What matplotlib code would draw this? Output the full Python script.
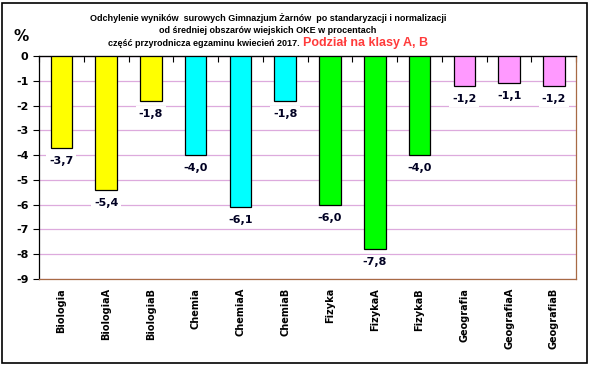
import matplotlib
matplotlib.use("Agg")
import matplotlib.pyplot as plt
from matplotlib.patches import Rectangle
import numpy as np

# data
subjects = ["Biologia", "BiologiaA", "BiologiaB", "Chemia", "ChemiaA", "ChemiaB",
            "Fizyka", "FizykaA", "FizykaB", "Geografia", "GeografiaA", "GeografiaB"]
values = [-3.7, -5.4, -1.8, -4.0, -6.1, -1.8, -6.0, -7.8, -4.0, -1.2, -1.1, -1.2]
bar_colors = ["#FFFF00"] * 3 + ["#00FFFF"] * 3 + ["#00FF00"] * 3 + ["#FF99FF"] * 3
yticks = list(range(-9, 1))

plt.rcParams['font.family'] = ['DejaVu Sans']

fig = plt.figure(figsize=(5.91, 3.66), dpi=100)
ax = fig.add_axes([0.066, 0.238, 0.909, 0.609])

x = np.arange(len(subjects))
bars = ax.bar(x, values, width=0.48, color=bar_colors, edgecolor='black', linewidth=0.9, zorder=3)

# value labels below each bar, white box hides the grid lines
for xi, v in zip(x, values):
    ax.annotate(f"{v:.1f}".replace('.', ','), (xi, v), xytext=(0, -9.5),
                textcoords='offset points', ha='center', va='center',
                fontsize=8, fontweight='bold', color='#000022', zorder=4,
                bbox=dict(boxstyle='square,pad=0.25', fc='white', ec='none'))

ax.set_xlim(-0.5, len(subjects) - 0.5)
ax.set_ylim(-9, 0)
ax.set_yticks(yticks)
ax.set_yticklabels([str(t) for t in yticks], fontsize=8, fontweight='bold')
ax.tick_params(axis='y', direction='out', length=4.5, width=0.8, pad=3)
ax.yaxis.grid(True, color='#DDAADD', linewidth=0.9, zorder=0)
ax.set_axisbelow(True)

ax.set_xticks(x)
ax.set_xticklabels(subjects, rotation=90, fontsize=7, fontweight='bold', va='top')
ax.tick_params(axis='x', length=0, pad=6.5)

# category axis sits at zero (top edge) with boundary ticks pointing down
top = ax.secondary_xaxis('top')
top.set_xticks(np.arange(len(subjects) + 1) - 0.5)
top.set_xticklabels([])
top.tick_params(direction='in', length=4, width=0.8)
top.spines['top'].set_color('black')

ax.spines['left'].set_color('black')
ax.spines['top'].set_color('black')
ax.spines['right'].set_color('#A86A45')
ax.spines['bottom'].set_color('#A86A45')
for s in ax.spines.values():
    s.set_linewidth(0.9)

# titles
tfont = dict(family=['Liberation Sans', 'DejaVu Sans'], fontweight='bold', fontsize=6.5)
fig.text(0.453, 0.952, "Odchylenie wyników  surowych Gimnazjum Żarnów  po standaryzacji i normalizacji",
         ha='center', va='center', **tfont)
fig.text(0.453, 0.916, "od średniej obszarów wiejskich OKE w procentach",
         ha='center', va='center', **tfont)
fig.text(0.511, 0.874, "część przyrodnicza egzaminu kwiecień 2017. ",
         ha='right', va='baseline', **tfont)
fig.text(0.513, 0.874, "Podział na klasy A, B", ha='left', va='baseline',
         family=['Liberation Sans Narrow', 'Liberation Sans'], fontweight='bold',
         fontsize=9, color='#FF3B3B')

fig.text(0.035, 0.9, "%", ha='center', va='center', fontsize=11, fontweight='bold')

# outer frame
fig.patches.append(Rectangle((0.004, 0.008), 0.99, 0.984, transform=fig.transFigure,
                             fill=False, edgecolor='black', linewidth=1.2))

fig.savefig("out.png", dpi=100)
